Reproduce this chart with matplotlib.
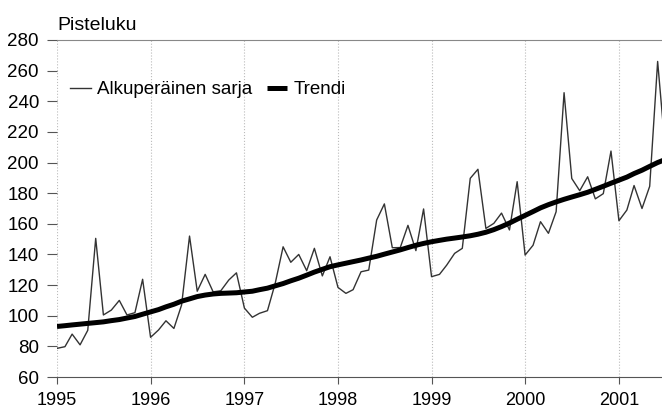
import pandas as pd
import matplotlib.pyplot as plt
import matplotlib.dates as mdates

plt.rcParams['font.family'] = ['Liberation Sans', 'DejaVu Sans']

# Kuukausittaiset arvot 1995/01 - 2001/07
alkuperainen = [
    78.7, 79.8, 88.0, 81.0, 90.5, 150.5, 100.5, 103.7, 110.0, 100.5, 102.0, 123.8,   # 1995
    85.9, 90.7, 96.7, 91.7, 107.0, 152.0, 116.0, 127.0, 115.6, 116.3, 123.3, 128.0,  # 1996
    105.0, 99.0, 101.6, 103.3, 121.0, 145.0, 134.9, 140.0, 129.4, 144.0, 126.0, 138.5,  # 1997
    118.5, 114.6, 117.0, 128.7, 129.8, 162.5, 173.0, 144.4, 144.5, 159.0, 142.5, 169.7,  # 1998
    125.5, 127.0, 133.0, 140.7, 144.0, 189.7, 195.6, 157.0, 160.3, 167.0, 156.0, 187.5,  # 1999
    139.6, 146.0, 161.4, 153.8, 167.9, 245.6, 189.6, 181.6, 190.7, 176.3, 179.7, 207.5,  # 2000
    162.0, 169.0, 185.0, 170.0, 184.5, 266.0, 208.0,  # 2001
]
trendi = [
    93.0, 93.5, 94.0, 94.5, 95.0, 95.5, 96.0, 96.8, 97.5, 98.5, 99.5, 101.0,
    102.5, 104.0, 105.8, 107.5, 109.5, 111.0, 112.5, 113.5, 114.2, 114.6, 114.8, 115.0,
    115.5, 116.0, 117.0, 118.0, 119.5, 121.0, 122.8, 124.5, 126.5, 128.5, 130.3, 132.0,
    133.2, 134.3, 135.3, 136.4, 137.6, 138.8, 140.2, 141.6, 143.0, 144.5, 146.0, 147.2,
    148.3, 149.2, 150.0, 150.7, 151.4, 152.2, 153.2, 154.5, 156.2, 158.2, 160.5, 163.0,
    165.5, 168.0, 170.4, 172.5, 174.3, 176.0, 177.5, 179.0, 180.6, 182.5, 184.5, 186.5,
    188.5, 190.5, 192.8, 195.0, 197.5, 200.0, 202.0,
]
kuukaudet = pd.date_range('1995-01-01', periods=len(alkuperainen), freq='MS')
y_ticks = list(range(60, 281, 20))

fig = plt.figure(figsize=(6.62, 4.11), dpi=100)
ax = fig.add_axes([0.0861, 0.0827, 0.9139, 0.820])

# Viivat
ax.plot(kuukaudet, alkuperainen, color='#333333', lw=1.0, label='Alkuperäinen sarja')
ax.plot(kuukaudet, trendi, color='black', lw=3.6, label='Trendi', solid_capstyle='butt')

# Akselit
ax.set_xlim(pd.Timestamp('1995-01-01'), pd.Timestamp('2001-06-18'))
ax.set_ylim(60, 280)
ax.set_yticks(y_ticks)
ax.xaxis.set_major_locator(mdates.YearLocator())
ax.xaxis.set_major_formatter(mdates.DateFormatter('%Y'))
ax.tick_params(axis='y', length=7, width=0.8, color='#555555', pad=6, labelsize=13.5)
ax.tick_params(axis='x', length=5, width=0.8, color='#555555', pad=6, labelsize=13)
ax.grid(axis='x', linestyle=':', color='#bbbbbb', lw=0.8)

for s in ['left', 'right']:
    ax.spines[s].set_visible(False)
ax.spines['top'].set_color('#888888')
ax.spines['top'].set_linewidth(0.8)
ax.spines['bottom'].set_color('#555555')
ax.spines['bottom'].set_linewidth(0.8)

ax.text(0.0, 1.031, 'Pisteluku', transform=ax.transAxes, fontsize=14, ha='left', va='baseline')

ax.legend(loc='center left', bbox_to_anchor=(0.0215, 0.852), ncol=2, frameon=False,
          fontsize=13.5, handlelength=1.1, handletextpad=0.35, columnspacing=0.75,
          borderpad=0, borderaxespad=0)

plt.savefig('out.png', dpi=100)
